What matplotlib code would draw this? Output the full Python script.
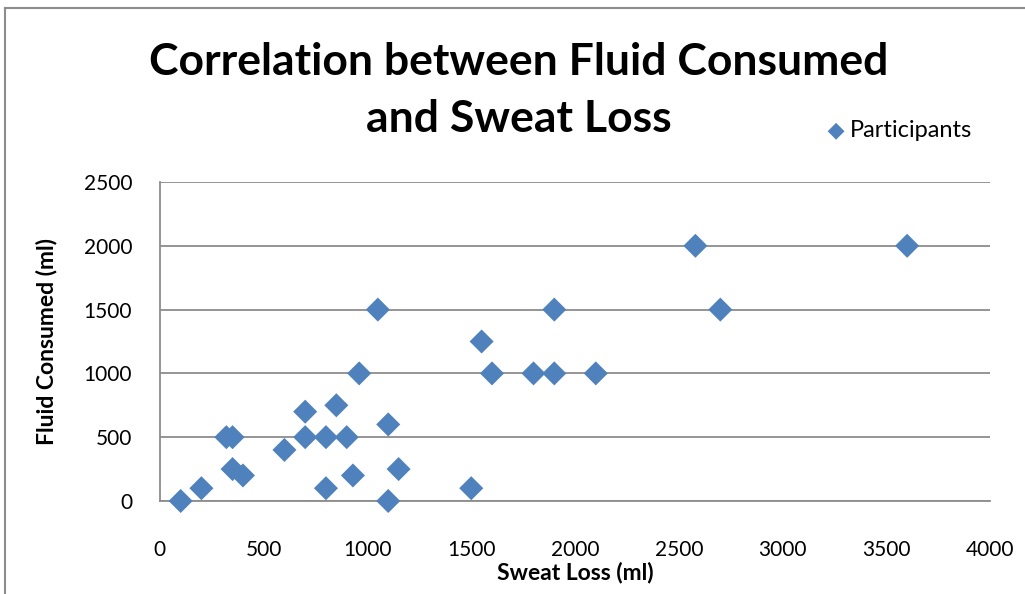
import matplotlib.pyplot as plt
from matplotlib.lines import Line2D

# Sweat loss (ml) and fluid consumed (ml) for each participant
sweat_loss = [100, 200, 320, 350, 350, 400, 600, 700, 700, 800, 800, 850, 900,
              930, 960, 1050, 1100, 1100, 1150, 1500, 1550, 1600, 1800, 1900,
              1900, 2100, 2580, 2700, 3600]
fluid_consumed = [0, 100, 500, 500, 250, 200, 400, 700, 500, 100, 500, 750, 500,
                  200, 1000, 1500, 600, 0, 250, 100, 1250, 1000, 1000, 1500,
                  1000, 1000, 2000, 1500, 2000]

x_ticks = [0, 500, 1000, 1500, 2000, 2500, 3000, 3500, 4000]
y_ticks = [0, 500, 1000, 1500, 2000, 2500]

plt.rcParams['font.family'] = ['Lato', 'DejaVu Sans']

fig = plt.figure(figsize=(10.25, 5.94), dpi=100)
ax = fig.add_axes([0.156, 0.1566, 0.81, 0.537])

# outer chart border (only left and top edges are in view)
bx, by = 5 / 1025, 1 - 8 / 594
fig.add_artist(Line2D([bx, bx], [0, by], transform=fig.transFigure,
                      color='#8c8c8c', linewidth=1.5))
fig.add_artist(Line2D([bx, 1], [by, by], transform=fig.transFigure,
                      color='#8c8c8c', linewidth=1.5))

ax.scatter(sweat_loss, fluid_consumed, marker='D', s=150, color='#4F81BD',
           edgecolors='none', zorder=3, label='Participants', clip_on=False)

ax.set_xlim(0, 4000)
ax.set_ylim(0, 2500)
ax.set_xticks(x_ticks)
ax.set_yticks(y_ticks)
ax.tick_params(length=0, labelsize=15)
ax.tick_params(axis='x', pad=28)
ax.tick_params(axis='y', pad=20)
ax.yaxis.grid(True, color='#8c8c8c', linewidth=1.3)
for s in ['top', 'right']:
    ax.spines[s].set_visible(False)
for s in ['left', 'bottom']:
    ax.spines[s].set_color('#8c8c8c')
    ax.spines[s].set_linewidth(1.3)

ax.set_xlabel('Sweat Loss (ml)', fontsize=16.5, fontweight='bold', labelpad=1)
ax.set_ylabel('Fluid Consumed (ml)', fontsize=16.5, fontweight='bold',
              labelpad=19)

fig.text(0.506, 0.895, 'Correlation between Fluid Consumed', ha='center',
         va='center', fontsize=32, fontweight='bold')
fig.text(0.506, 0.8, 'and Sweat Loss', ha='center', va='center',
         fontsize=32, fontweight='bold')

ax.legend(loc='center left', bbox_to_anchor=(0.786, 1.16), frameon=False,
          fontsize=17, handletextpad=0.0, handlelength=1.2, borderaxespad=0,
          markerscale=0.7)

fig.savefig('out.png', dpi=100)
